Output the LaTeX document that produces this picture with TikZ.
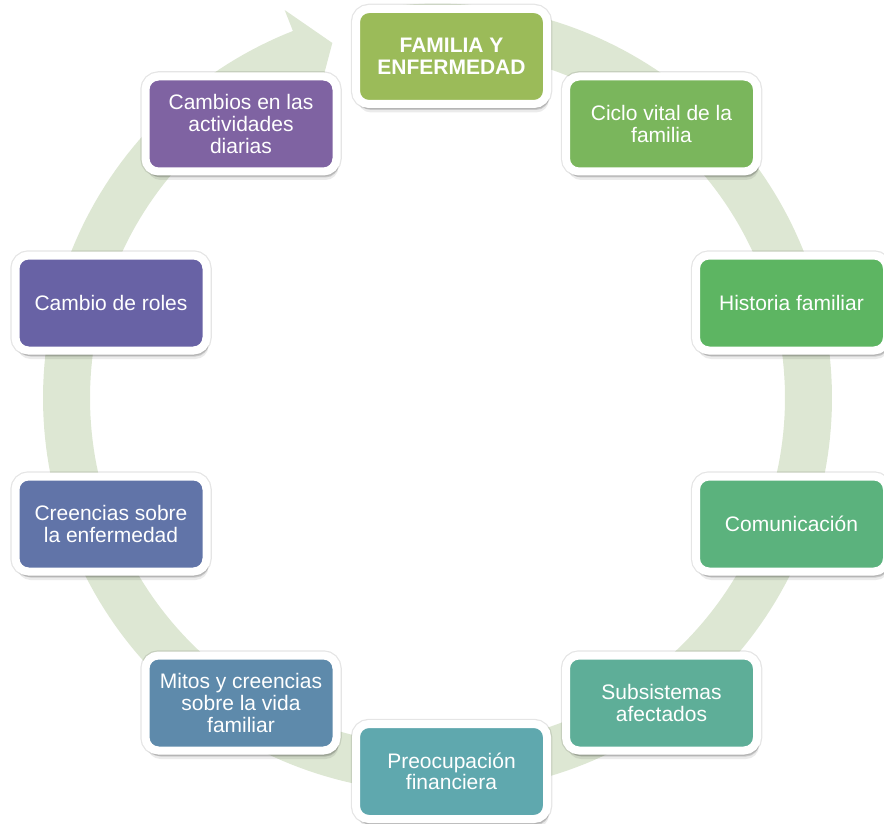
\documentclass[tikz,border=0pt]{standalone}
\usepackage{fontspec}
\setmainfont{Liberation Sans}
\usetikzlibrary{shadows}
\definecolor{bandc}{RGB}{221,231,211}
\definecolor{cA}{HTML}{9BBB59}
\definecolor{cB}{HTML}{7AB65C}
\definecolor{cC}{HTML}{5DB562}
\definecolor{cD}{HTML}{5BB27D}
\definecolor{cE}{HTML}{5EAE98}
\definecolor{cF}{HTML}{5FA8AE}
\definecolor{cG}{HTML}{5E8AAB}
\definecolor{cH}{HTML}{6174A8}
\definecolor{cI}{HTML}{6862A5}
\definecolor{cJ}{HTML}{7F63A2}
\tikzset{
  cyclebox/.style={rectangle, rounded corners=13pt, draw=white, line width=8pt,
    minimum width=191pt, minimum height=95pt, inner sep=0pt, align=center,
    text=white, font=\fontsize{21pt}{21.7pt}\selectfont,
    drop shadow={shadow xshift=2pt, shadow yshift=-6pt, opacity=0.14, fill=black},
    drop shadow={shadow xshift=2pt, shadow yshift=-8.5pt, opacity=0.08, fill=black},
    preaction={draw=black, draw opacity=0.10, line width=10.5pt}}
}
\begin{document}
\begin{tikzpicture}[x=1pt,y=-1pt]
\useasboundingbox (0,0) rectangle (884,824);
% circular arrow band
\fill[bandc]
  plot[domain=-95:248.5, samples=260] ({437.5+394.5*cos(\x)},{398+394.5*sin(\x)})
  -- ({437.5+417*cos(248.5)},{398+417*sin(248.5)})
  -- ({437.5+370.3*cos(253.5)},{398+370.3*sin(253.5)})
  -- ({437.5+325*cos(248.5)},{398+325*sin(248.5)})
  -- plot[domain=248.5:-95, samples=260] ({437.5+347.5*cos(\x)},{398+347.5*sin(\x)})
  -- cycle;
% boxes
\node[cyclebox, fill=cA, font=\fontsize{21pt}{21.7pt}\selectfont\bfseries] (fam) at (451.5,56.5) {FAMILIA Y\\ENFERMEDAD};
\node[cyclebox, fill=cB] (ciclo) at (661.5,124) {Ciclo vital de la\\familia};
\node[cyclebox, fill=cC] (hist) at (791.5,303) {Historia familiar};
\node[cyclebox, fill=cD] (com) at (791.5,524) {Comunicación};
\node[cyclebox, fill=cE] (sub) at (661.5,703) {Subsistemas\\afectados};
\node[cyclebox, fill=cF] (preo) at (451.5,771.5) {Preocupación\\financiera};
\node[cyclebox, fill=cG] (mitos) at (241,703) {Mitos y creencias\\sobre la vida\\familiar};
\node[cyclebox, fill=cH] (cree) at (111,524) {Creencias sobre\\la enfermedad};
\node[cyclebox, fill=cI] (roles) at (111,303) {Cambio de roles};
\node[cyclebox, fill=cJ] (camb) at (241,124) {Cambios en las\\actividades\\diarias};
\end{tikzpicture}
\end{document}
